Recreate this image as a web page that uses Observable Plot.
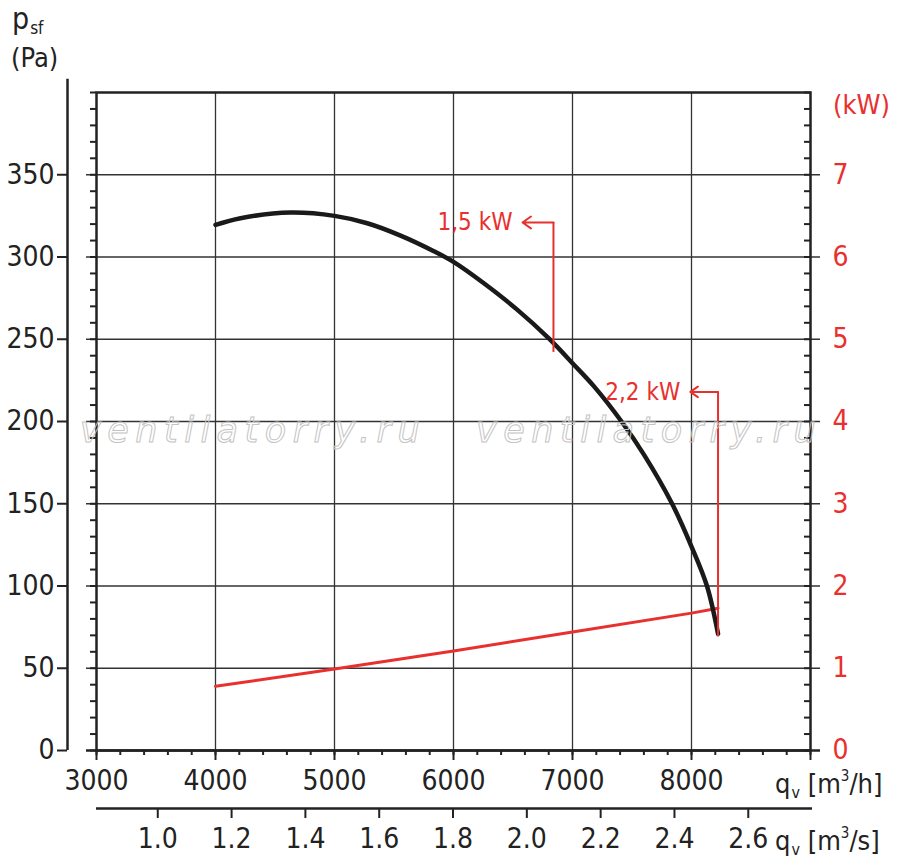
<!DOCTYPE html>
<html><head><meta charset="utf-8">
<script src="https://cdn.jsdelivr.net/npm/d3@7"></script>
<script src="https://cdn.jsdelivr.net/npm/@observablehq/plot@0.6"></script>
<style>
body{margin:0;background:#fff;}
#wrap{position:relative;width:900px;height:868px;overflow:hidden;background:#fff;font-family:"Liberation Sans Narrow","DejaVu Sans Condensed",Roboto,sans-serif;}
#wrap svg{position:absolute;left:0;overflow:visible;}
.lbl{position:absolute;white-space:nowrap;color:#222;line-height:1;}
.red{color:#e8302e;}
.wm{position:absolute;white-space:nowrap;font-family:"DejaVu Sans",sans-serif;font-style:italic;font-size:35px;letter-spacing:6.5px;color:transparent;-webkit-text-stroke:1px #c4c4c4;line-height:1;}
</style></head><body><div id="wrap"></div>
<script>
// Fan curve: static pressure p_sf (Pa) vs airflow q_v (m3/h)
const curveQ = [4000, 4210, 4630, 5000, 5275, 5555, 5835, 6000, 6255, 6535, 6801, 7006, 7179, 7412, 7599, 7837, 8000, 8130, 8223];
const curvePsf = [319.5, 323.6, 327, 325, 320.5, 313, 303.5, 297, 284, 268, 250.5, 235, 221.5, 200, 180, 150, 124, 100, 71];
// Power curve (kW)
const powerQ = [4000, 5000, 6000, 7000, 8000, 8223];
const powerKW = [0.78, 0.99, 1.21, 1.44, 1.67, 1.73];
// Motor power annotations
const annoLabel = ["1,5 kW", "2,2 kW"];
const annoQ = [6840, 8223];
const annoLow = [242, 69];
const annoHigh = [321, 218];
const annoTip = [6580, 7990];
// Axes
const qhTickLabels = [3000, 4000, 5000, 6000, 7000, 8000];
const qhMajor = [3000, 4000, 5000, 6000, 7000, 8000, 9000];
const qhGrid = [4000, 5000, 6000, 7000, 8000];
const psfTicks = [0, 50, 100, 150, 200, 250, 300, 350];
const psfGrid = [50, 100, 150, 200, 250, 300, 350];
const kwTicks = [0, 1, 2, 3, 4, 5, 6, 7];
const qsTicks = [1.0, 1.2, 1.4, 1.6, 1.8, 2.0, 2.2, 2.4, 2.6];
const PA_PER_KW = 50;
const qsDomain = [0.834, 2.774];

const RED = "#e8302e", INK = "#222";
const FONT = '"Liberation Sans Narrow","DejaVu Sans Condensed",Roboto,sans-serif';

const curve = curveQ.map((q, i) => ({q, p: curvePsf[i]}));
const power = powerQ.map((q, i) => ({q, kw: powerKW[i]}));
const annos = annoLabel.map((label, i) => ({label, q: annoQ[i], lo: annoLow[i], hi: annoHigh[i], tip: annoTip[i]}));
const minorY = d3.range(0, 401, 10);
const minorX = d3.range(3000, 9001, 200);

const wrap = document.getElementById("wrap");

const main = Plot.plot({
  width: 900, height: 868,
  marginLeft: 96, marginRight: 90, marginTop: 92, marginBottom: 118,
  x: {domain: [3000, 9000]},
  y: {domain: [0, 400]},
  style: {fontFamily: FONT, color: INK, background: "transparent", overflow: "visible"},
  marks: [
    Plot.ruleX(qhGrid, {stroke: "#333", strokeWidth: 1.3}),
    Plot.ruleY(psfGrid, {stroke: "#333", strokeWidth: 1.3, insetLeft: -10, insetRight: -10}),
    Plot.axisY({anchor: "left", ticks: minorY, tickSize: 6, text: null, strokeWidth: 2, stroke: INK}),
    Plot.axisY({anchor: "right", ticks: minorY, tickSize: -7, text: null, strokeWidth: 2, stroke: INK}),
    Plot.axisX({anchor: "bottom", ticks: minorX, tickSize: 5, text: null, strokeWidth: 2, stroke: INK}),
    Plot.axisX({anchor: "bottom", ticks: qhMajor, tickSize: 10, text: null, strokeWidth: 2, stroke: INK}),
    Plot.axisX({anchor: "bottom", ticks: qhTickLabels, tickSize: 0, tickPadding: 20, tickFormat: d => String(d), fontSize: 28, fill: INK}),
    Plot.ruleX([3000], {dx: -29, y1: 0, y2: 408, stroke: INK, strokeWidth: 2.5}),
    Plot.axisY({anchor: "left", ticks: psfTicks, dx: -29, tickSize: 10, tickPadding: 3, fontSize: 28, strokeWidth: 2, stroke: INK, fill: INK}),
    Plot.axisY({anchor: "right", ticks: kwTicks.map(k => k * PA_PER_KW), tickFormat: d => String(d / PA_PER_KW), tickSize: 0, tickPadding: 22, fontSize: 28, fill: RED}),
    Plot.frame({stroke: INK, strokeWidth: 2.5}),
    Plot.ruleY([0], {stroke: INK, strokeWidth: 2.5, insetLeft: -10, insetRight: -10}),
    Plot.line(power, {x: "q", y: d => d.kw * PA_PER_KW, stroke: RED, strokeWidth: 3}),
    Plot.line(curve, {x: "q", y: "p", stroke: "#1a1a1a", strokeWidth: 4.5, curve: "catmull-rom"}),
    Plot.ruleX(annos, {x: "q", y1: "lo", y2: "hi", stroke: RED, strokeWidth: 2}),
    Plot.arrow(annos, {x1: "q", y1: "hi", x2: "tip", y2: "hi", stroke: RED, strokeWidth: 2, headLength: 12, headAngle: 70}),
    Plot.text(annos, {x: "tip", y: "hi", text: "label", textAnchor: "end", dx: -10, fill: RED, fontSize: 24, fontFamily: FONT})
  ]
});
main.style.top = "0px";
wrap.appendChild(main);

const second = Plot.plot({
  width: 900, height: 62,
  marginLeft: 96, marginRight: 88, marginTop: 2, marginBottom: 59,
  x: {domain: qsDomain},
  y: {domain: [0, 1], axis: null},
  style: {fontFamily: FONT, color: INK, background: "transparent", overflow: "visible"},
  marks: [
    Plot.ruleY([0], {stroke: INK, strokeWidth: 2.5}),
    Plot.axisX({anchor: "bottom", ticks: qsTicks, tickSize: 10, tickPadding: 10, tickFormat: d3.format(".1f"), fontSize: 28, strokeWidth: 2, stroke: INK, fill: INK})
  ]
});
second.style.top = "805px";
wrap.appendChild(second);

function addLabel(html, left, top, size, cls) {
  const d = document.createElement("div");
  d.className = "lbl" + (cls ? " " + cls : "");
  d.style.left = left + "px"; d.style.top = top + "px"; d.style.fontSize = size + "px";
  d.innerHTML = html;
  wrap.appendChild(d);
}
addLabel('p<span style="font-size:17px;position:relative;top:5px;margin-left:1px">sf</span>', 12, 4, 30);
addLabel('(Pa)', 11, 44, 27);
addLabel('(kW)', 833, 91, 27, "red");
addLabel('q<span style="font-size:16px;position:relative;top:5px;margin-left:1px">v</span> [m<sup style="font-size:15px;position:relative;top:-2px">3</sup>/h]', 775, 770, 27);
addLabel('q<span style="font-size:16px;position:relative;top:5px;margin-left:1px">v</span> [m<sup style="font-size:15px;position:relative;top:-2px">3</sup>/s]', 775, 827, 27);

function addWM(left, top) {
  const d = document.createElement("div");
  d.className = "wm"; d.style.left = left + "px"; d.style.top = top + "px";
  d.textContent = "ventilatorry.ru";
  wrap.appendChild(d);
}
addWM(80, 413);
addWM(476, 413);
</script>
</body></html>
